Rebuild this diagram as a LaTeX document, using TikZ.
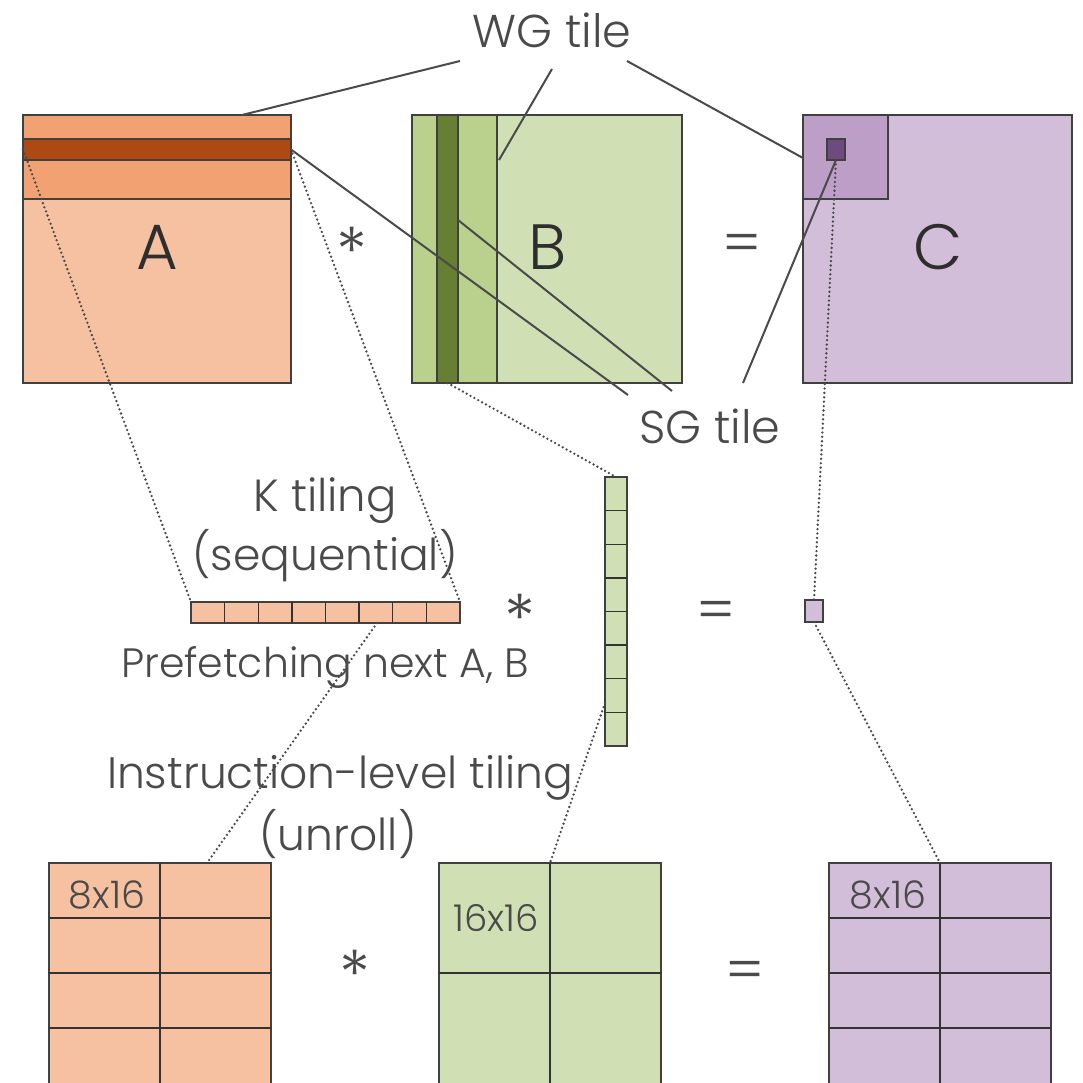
\documentclass[tikz,border=0pt]{standalone}
\usepackage{fontspec}
\setmainfont{Poppins}[UprightFont=* Light]
\usetikzlibrary{calc}
\definecolor{txtc}{HTML}{4A4A4A}
\definecolor{bigc}{HTML}{2E2E2E}
\definecolor{bordc}{HTML}{404040}
\definecolor{gridc}{HTML}{333333}
\definecolor{linec}{HTML}{4A4A4A}
\definecolor{Alight}{HTML}{F6C1A0}
\definecolor{Amed}{HTML}{F2A173}
\definecolor{Adark}{HTML}{AD4912}
\definecolor{Blight}{HTML}{D1E0B4}
\definecolor{Bmed}{HTML}{BAD18D}
\definecolor{Bdark}{HTML}{677F33}
\definecolor{Clight}{HTML}{D3BEDA}
\definecolor{Cmed}{HTML}{BD9EC6}
\definecolor{Cdark}{HTML}{6F4A80}
\begin{document}
\begin{tikzpicture}[x=1pt,y=-1pt,
  box/.style={draw=bordc, line width=2.6pt, inner sep=0pt, outer sep=0pt, anchor=north west},
  gridline/.style={draw=gridc, line width=1.3pt},
  lead/.style={draw=linec, line width=2pt},
  dots/.style={draw=linec, line width=2.6pt, line cap=round, dash pattern=on 0pt off 4.4pt},
  lbl/.style={text=txtc, inner sep=0pt},
  big/.style={text=bigc, inner sep=0pt, font=\fontsize{64}{64}\selectfont},
  star/.style={text=txtc, inner sep=0pt, font=\fontsize{66}{66}\selectfont},
  eq/.style={text=txtc, inner sep=0pt, font=\fontsize{58}{58}\selectfont},
]
\clip (0,0) rectangle (1082,1083);
\fill[white] (0,0) rectangle (1082,1083);

% ---------- top row: A ----------
\node[box, fill=Alight, minimum width=268pt, minimum height=268pt] (A) at (23,115) {};
\node[box, fill=Amed, minimum width=268pt, minimum height=84pt] (Awg) at (23,115) {};
\node[box, fill=Adark, minimum width=268pt, minimum height=21pt] (Adk) at (23,139) {};
\node[big] (Alab) at (157,247) {A};

% ---------- B ----------
\node[box, fill=Blight, minimum width=270pt, minimum height=268pt] (B) at (412,115) {};
\node[box, fill=Bmed, minimum width=85pt, minimum height=268pt] (Bwg) at (412,115) {};
\node[box, fill=Bdark, minimum width=21pt, minimum height=268pt] (Bdk) at (437,115) {};
\node[big] (Blab) at (548,247) {B};

% ---------- C ----------
\node[box, fill=Clight, minimum width=269pt, minimum height=268pt] (C) at (803,115) {};
\node[box, fill=Cmed, minimum width=85pt, minimum height=84pt] (Cwg) at (803,115) {};
\node[box, fill=Cdark, minimum width=18pt, minimum height=21pt] (Csg) at (827,139) {};
\node[big] (Clab) at (938,247) {C};

\node[star] (op1) at (352,251) {*};
\node[eq] (op2) at (742,249) {=};

% ---------- labels WG / SG ----------
\node[lbl, font=\fontsize{46}{46}\selectfont] (WG) at (552,30) {WG tile};
\node[lbl, font=\fontsize{46}{46}\selectfont] (SG) at (710,426) {SG tile};

\coordinate (wg1) at (460,61);
\coordinate (wg2) at (552,69);
\coordinate (wg3) at (627,61);
\coordinate (wgA) at (242,115);
\coordinate (wgB) at (499,160);
\coordinate (wgC) at (803,158);
\draw[lead] (wg1) -- (wgA);
\draw[lead] (wg2) -- (wgB);
\draw[lead] (wg3) -- (wgC);

\coordinate (sg1) at (628,395);
\coordinate (sg2) at (672,391);
\coordinate (sg3) at (743,383);
\coordinate (sgB) at (458,220);
\draw[lead] (Adk.east) -- (sg1);
\draw[lead] (sgB) -- (sg2);
\draw[lead] (Csg.south) -- (sg3);

% ---------- middle row ----------
\node[box, fill=Alight, minimum width=269pt, minimum height=21pt] (K) at (191,602) {};
\foreach \i in {1,...,7} \draw[gridline] ($(K.north west)+(\i*33.625,0)$) -- ($(K.south west)+(\i*33.625,0)$);
\node[box, fill=Blight, minimum width=22pt, minimum height=269pt] (GS) at (605,477) {};
\foreach \i in {1,...,7} \draw[gridline] ($(GS.north west)+(0,\i*33.625)$) -- ($(GS.north east)+(0,\i*33.625)$);
\node[box, fill=Clight, minimum width=18pt, minimum height=22pt] (Cs) at (805,600) {};

\node[star] (op3) at (520,618) {*};
\node[eq] (op4) at (716,616) {=};

\node[lbl, font=\fontsize{45}{45}\selectfont] (Kt) at (325,501) {K tiling};
\node[lbl, font=\fontsize{44}{44}\selectfont] (Ks) at (325,556) {(sequential)};
\node[lbl, font=\fontsize{41}{41}\selectfont] (Pf) at (325,667) {Prefetching next A, B};

% ---------- bottom row ----------
\node[lbl, font=\fontsize{44}{44}\selectfont] (IL) at (340,778) {Instruction-level tiling};
\node[lbl, font=\fontsize{44}{44}\selectfont] (UR) at (338,834) {(unroll)};

\node[box, fill=Alight, minimum width=222pt, minimum height=260pt] (M1) at (49,863) {};
\draw[gridline] (160,863) -- (160,1090);
\foreach \y in {918,973,1028} \draw[gridline] (49,\y) -- (271,\y);
\node[lbl, font=\fontsize{38}{38}\selectfont] (M1l) at (107,895) {8x16};

\node[box, fill=Blight, minimum width=222pt, minimum height=260pt] (M2) at (439,863) {};
\draw[gridline] (550,863) -- (550,1090);
\draw[gridline] (439,973) -- (661,973);
\node[lbl, font=\fontsize{37}{37}\selectfont] (M2l) at (496,918) {16x16};

\node[box, fill=Clight, minimum width=222pt, minimum height=260pt] (M3) at (829,863) {};
\draw[gridline] (940,863) -- (940,1090);
\foreach \y in {918,973,1028} \draw[gridline] (829,\y) -- (1051,\y);
\node[lbl, font=\fontsize{38}{38}\selectfont] (M3l) at (888,895) {8x16};

\node[star] (op5) at (355,974) {*};
\node[eq] (op6) at (745,976) {=};

% ---------- dotted connectors ----------
\coordinate (k1) at (377,623);
\coordinate (m1) at (207,863);
\coordinate (g1) at (605,703);
\coordinate (m2) at (550,863);
\coordinate (m3) at (940,863);
\draw[dots] (Adk.west) -- (K.north west);
\draw[dots] (Adk.east) -- (K.north east);
\draw[dots] (Bdk.south) -- (GS.north);
\draw[dots] (Csg.south) -- (Cs.north);
\draw[dots] (k1) -- (m1);
\draw[dots] (g1) -- (m2);
\draw[dots] (Cs.south) -- (m3);
\end{tikzpicture}
\end{document}
